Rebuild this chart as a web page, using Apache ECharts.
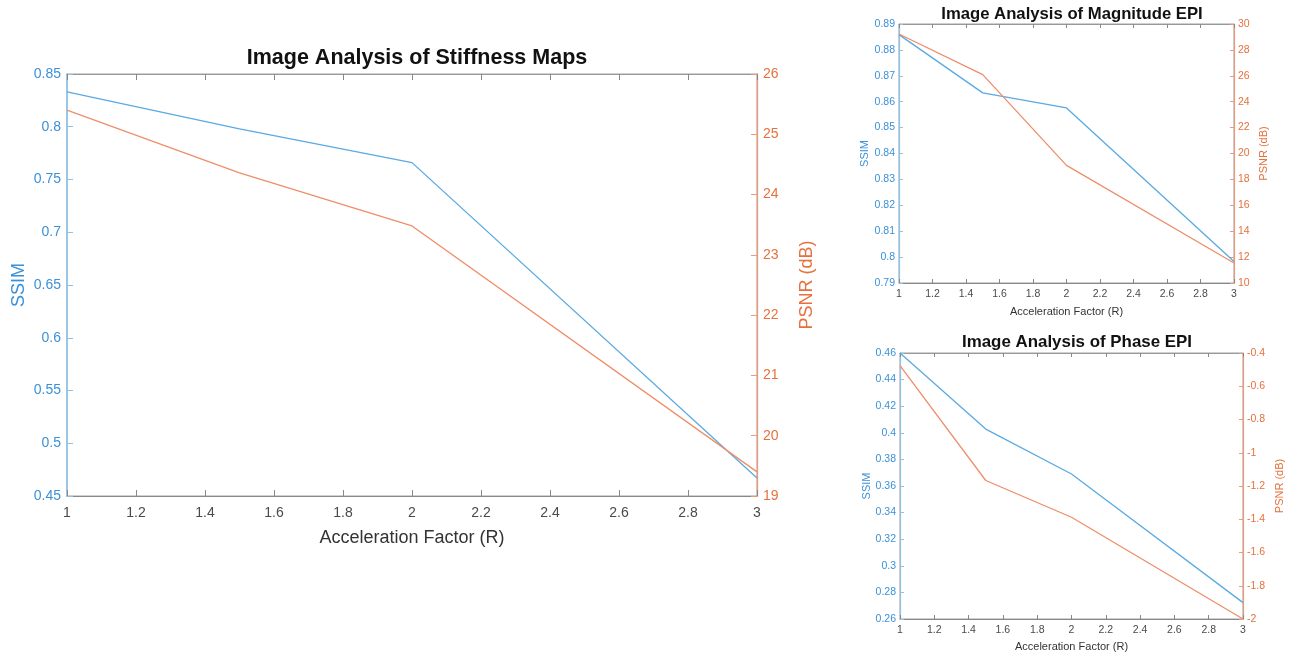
<!DOCTYPE html>
<html>
<head>
<meta charset="utf-8">
<script src="https://cdn.jsdelivr.net/npm/echarts@6/dist/echarts.min.js"></script>
<style>html,body{margin:0;padding:0;background:#fff;}#c{width:1289px;height:655px;}</style>
</head>
<body>
<div id="c"></div>
<script>
// Acceleration factors
const accel = [1, 1.5, 2, 3];
// Stiffness maps
const stiffSSIM = [0.833, 0.798, 0.766, 0.467];
const stiffPSNR = [25.40, 24.36, 23.48, 19.40];
// Magnitude EPI
const magSSIM = [0.8859, 0.8634, 0.8576, 0.7983];
const magPSNR = [29.23, 26.09, 19.08, 11.54];
// Phase EPI
const phaseSSIM = [0.46, 0.4028, 0.369, 0.2723];
const phasePSNR = [-0.476, -1.167, -1.388, -2.0];

const titles = ['Image Analysis of Stiffness Maps', 'Image Analysis of Magnitude EPI', 'Image Analysis of Phase EPI'];
const xName = 'Acceleration Factor (R)';
const yLeftName = 'SSIM';
const yRightName = 'PSNR (dB)';

const FONT = '"Liberation Sans", Arial, Helvetica, sans-serif';
const BLUE_LINE = '#5aaae2';
const ORANGE_LINE = '#ee8e6a';
const BLUE_TXT = '#3b91d8';
const ORANGE_TXT = '#e6713e';
const BLUE_AX = '#8cc3ec';
const ORANGE_AX = '#eb9b7a';
const GRAY_TXT = '#4a4a4a';

const pairs = arr => accel.map((x, i) => [x, arr[i]]);

const grids = [
  {left: 67, right: 532, top: 74, height: 422},
  {left: 899, right: 55, top: 24, height: 259},
  {left: 900, right: 46, top: 353, height: 266}
];
const big = [true, false, false];
const yRanges = [
  [[0.45, 0.85, 0.05], [19, 26, 1]],
  [[0.79, 0.89, 0.01], [10, 30, 2]],
  [[0.26, 0.46, 0.02], [-2, -0.4, 0.2]]
];
const nameGaps = [
  {x: 33, l: 39, r: 41},
  {x: 23, l: 29, r: 24},
  {x: 22, l: 28, r: 31}
];
const dataSets = [[stiffSSIM, stiffPSNR], [magSSIM, magPSNR], [phaseSSIM, phasePSNR]];

const xAxis = [], yAxis = [], series = [], title = [];
grids.forEach((g, i) => {
  const fs = big[i] ? 14 : 10.5;
  const nfs = big[i] ? 18 : 11;
  const tl = big[i] ? 6 : 4;
  g.show = true; g.borderColor = '#a0a0a0'; g.borderWidth = 1; g.backgroundColor = '#fff';
  g.containLabel = false; g.outerBoundsMode = 'none';
  xAxis.push({
    type: 'value', gridIndex: i, min: 1, max: 3, interval: 0.2, position: 'bottom',
    name: xName, nameLocation: 'middle', nameGap: nameGaps[i].x,
    nameTextStyle: {fontFamily: FONT, fontSize: nfs, color: '#333'},
    axisLine: {show: true, lineStyle: {color: '#888'}},
    axisTick: {show: true, inside: true, length: tl, lineStyle: {color: '#888'}},
    axisLabel: {fontFamily: FONT, fontSize: fs, color: GRAY_TXT, margin: big[i] ? 10 : 6,
      formatter: v => String(Math.round(v * 10) / 10)},
    splitLine: {show: false}
  });
  xAxis.push({
    type: 'value', gridIndex: i, min: 1, max: 3, interval: 0.2, position: 'top',
    axisLine: {show: true, lineStyle: {color: '#999'}},
    axisTick: {show: true, inside: true, length: tl, lineStyle: {color: '#888'}},
    axisLabel: {show: false}, splitLine: {show: false}
  });
  const [lr, rr] = yRanges[i];
  yAxis.push({
    type: 'value', gridIndex: i, position: 'left', min: lr[0], max: lr[1], interval: lr[2],
    name: yLeftName, nameLocation: 'middle', nameGap: nameGaps[i].l, nameMoveOverlap: false,
    nameTextStyle: {fontFamily: FONT, fontSize: nfs, color: BLUE_TXT},
    axisLine: {show: true, lineStyle: {color: BLUE_AX, width: big[i] ? 1.5 : 1.2}},
    axisTick: {show: true, inside: true, length: tl, lineStyle: {color: BLUE_AX}},
    axisLabel: {fontFamily: FONT, fontSize: fs, color: BLUE_TXT, margin: big[i] ? 6 : 4},
    splitLine: {show: false}
  });
  yAxis.push({
    type: 'value', gridIndex: i, position: 'right', min: rr[0], max: rr[1], interval: rr[2],
    name: yRightName, nameLocation: 'middle', nameGap: nameGaps[i].r, nameRotate: 90,
    nameMoveOverlap: false,
    nameTextStyle: {fontFamily: FONT, fontSize: nfs, color: ORANGE_TXT},
    axisLine: {show: true, lineStyle: {color: ORANGE_AX, width: big[i] ? 1.3 : 1.2}},
    axisTick: {show: true, inside: true, length: tl, lineStyle: {color: ORANGE_AX}},
    axisLabel: {fontFamily: FONT, fontSize: fs, color: ORANGE_TXT, margin: big[i] ? 6 : 4,
      formatter: v => String(Math.round(v * 100) / 100)},
    splitLine: {show: false}
  });
  series.push({
    type: 'line', xAxisIndex: 2 * i, yAxisIndex: 2 * i, data: pairs(dataSets[i][0]),
    showSymbol: false, symbol: 'none', lineStyle: {color: BLUE_LINE, width: 1.3}, clip: false, z: 3
  });
  series.push({
    type: 'line', xAxisIndex: 2 * i, yAxisIndex: 2 * i + 1, data: pairs(dataSets[i][1]),
    showSymbol: false, symbol: 'none', lineStyle: {color: ORANGE_LINE, width: 1.3}, clip: false, z: 3
  });
});

title.push({text: titles[0], left: 412, top: 42, textAlign: 'center',
  textStyle: {fontFamily: FONT, fontSize: 21.5, fontWeight: 'bold', color: '#111'}});
title.push({text: titles[1], left: 1067, top: 1, textAlign: 'center',
  textStyle: {fontFamily: FONT, fontSize: 16.7, fontWeight: 'bold', color: '#111'}});
title.push({text: titles[2], left: 1072, top: 329, textAlign: 'center',
  textStyle: {fontFamily: FONT, fontSize: 16.9, fontWeight: 'bold', color: '#111'}});

const chart = echarts.init(document.getElementById('c'), null, {renderer: 'canvas'});
chart.setOption({
  animation: false,
  backgroundColor: '#fff',
  title, grid: grids, xAxis, yAxis, series
});
</script>
</body>
</html>
